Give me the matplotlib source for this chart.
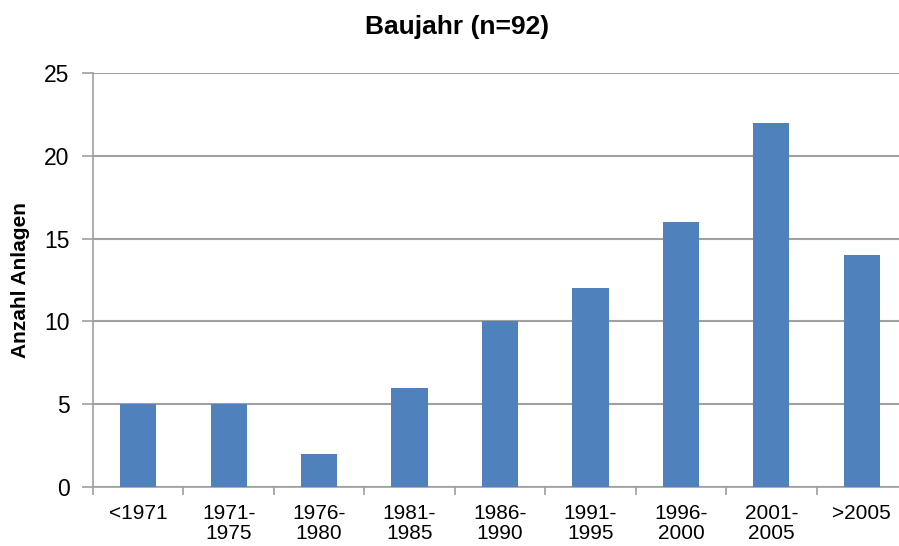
import matplotlib.pyplot as plt
import numpy as np

plt.rcParams['font.family'] = ['Liberation Sans', 'DejaVu Sans']

categories = ['<1971', '1971-\n1975', '1976-\n1980', '1981-\n1985', '1986-\n1990',
              '1991-\n1995', '1996-\n2000', '2001-\n2005', '>2005']
counts = [5, 5, 2, 6, 10, 12, 16, 22, 14]

fig = plt.figure(figsize=(8.99, 5.46), dpi=100)
ax = fig.add_axes([93 / 899, 1 - 487 / 546, 814 / 899, 414 / 546])

x = np.arange(len(categories))
ax.bar(x, counts, width=0.4, color='#4f81bd', zorder=3)

ax.set_xlim(-0.5, len(categories) - 0.5)
ax.set_ylim(0, 25)
ax.set_yticks([0, 5, 10, 15, 20, 25])
ax.yaxis.grid(True, color='#a0a0a0', linewidth=1.5, zorder=0)

ax.set_xticks(x)
ax.set_xticklabels(categories, fontsize=15, linespacing=1.1)
ax.tick_params(axis='x', length=0, pad=12)
ax.set_xticks(np.arange(-0.5, len(categories), 1), minor=True)
ax.tick_params(axis='x', which='minor', length=6, color='#a0a0a0', width=1.2)
ax.tick_params(axis='y', length=8, color='#a0a0a0', width=1.2, labelsize=16.5, pad=9)

for s in ['top', 'right']:
    ax.spines[s].set_visible(False)
for s in ['left', 'bottom']:
    ax.spines[s].set_color('#a0a0a0')
    ax.spines[s].set_linewidth(1.2)

ax.set_ylabel('Anzahl Anlagen', fontsize=15, fontweight='bold')
ax.yaxis.set_label_coords(-63 / 814, 0.5)
fig.text(457 / 899, 1 - 27 / 546, 'Baujahr (n=92)', ha='center', va='center',
         fontsize=19, fontweight='bold')

fig.savefig('out.png', dpi=100)
